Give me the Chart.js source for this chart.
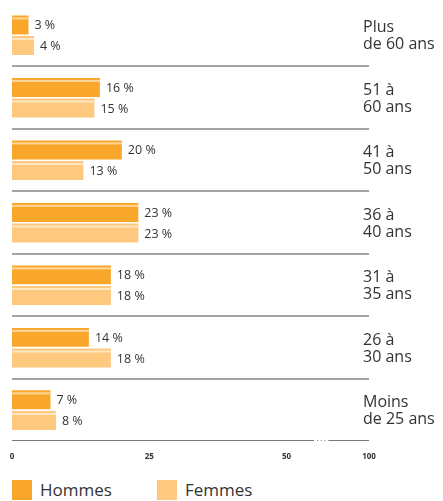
<!DOCTYPE html>
<html>
<head>
<meta charset="utf-8">
<script src="https://cdn.jsdelivr.net/npm/chart.js@4"></script>
<style>
  html, body { margin: 0; padding: 0; background: #fff; overflow: hidden; }
  #wrap { position: relative; width: 443px; height: 501px; overflow: hidden; }
  #ageChart { position: absolute; left: 0; top: 0; }
  #legend { position: absolute; left: 0; top: 480px; font-family: "Open Sans", sans-serif; font-size: 17px; color: #333; }
  .item { position: absolute; top: 0; white-space: nowrap; }
  .box { position: absolute; left: 0; top: 0; width: 20px; height: 20px; }
  .txt { position: absolute; left: 28px; top: -2px; line-height: 24px; }
</style>
</head>
<body>
<div id="wrap">
  <canvas id="ageChart" width="443" height="476"></canvas>
  <div id="legend"></div>
</div>
<script>
/* Répartition par âge — Hommes / Femmes */

const categories = [
  ['Plus', 'de 60 ans'],
  ['51 à', '60 ans'],
  ['41 à', '50 ans'],
  ['36 à', '40 ans'],
  ['31 à', '35 ans'],
  ['26 à', '30 ans'],
  ['Moins', 'de 25 ans'],
];
const hommes = [3, 16, 20, 23, 18, 14, 7];
const femmes = [4, 15, 13, 23, 18, 18, 8];

const seriesNames = ['Hommes', 'Femmes'];
const xTickValues = [0, 25, 50, 65];
const xTickLabels = ['0', '25', '50', '100'];
const axisBreak = [55, 57.6];   // the ". . ." gap in the axis

const COLORS = ['#F9A72A', '#FEC97F'];
const STRIPES = ['rgba(255,226,180,0.8)', 'rgba(255,236,205,0.85)'];
const TEXT = '#333333';

// thin light stripe near the top of each bar + value label
const barDecor = {
  id: 'barDecor',
  afterDatasetsDraw(chart) {
    const c = chart.ctx;
    c.save();
    chart.data.datasets.forEach((ds, di) => {
      const meta = chart.getDatasetMeta(di);
      meta.data.forEach((bar, i) => {
        const top = bar.y - bar.height / 2;
        const left = bar.base;
        c.fillStyle = STRIPES[di];
        c.fillRect(left, top + 2, bar.x - left, 2);
        c.fillStyle = TEXT;
        c.font = '12.5px "Open Sans", sans-serif';
        c.textAlign = 'left';
        c.textBaseline = 'middle';
        c.fillText(ds.data[i] + ' %', bar.x + 6, bar.y + 1);
      });
    });
    c.restore();
  }
};

// separators between groups, broken bottom axis, group labels on the right
const frame = {
  id: 'frame',
  beforeDatasetsDraw(chart) {
    const c = chart.ctx;
    const area = chart.chartArea;
    const y = chart.scales.y;
    const x = chart.scales.x;
    c.save();
    c.strokeStyle = '#a3a3a3';
    c.lineWidth = 2;
    for (let i = 1; i < categories.length; i++) {
      const py = Math.round((y.getPixelForValue(i - 1) + y.getPixelForValue(i)) / 2);
      c.beginPath();
      c.moveTo(area.left, py);
      c.lineTo(area.right, py);
      c.stroke();
    }
    // bottom axis with break
    const by = Math.round(area.bottom) - 0.5;
    const b0 = x.getPixelForValue(axisBreak[0]);
    const b1 = x.getPixelForValue(axisBreak[1]);
    c.strokeStyle = '#7a7a7a';
    c.lineWidth = 1;
    c.beginPath();
    c.moveTo(area.left, by); c.lineTo(b0, by);
    c.moveTo(b1, by); c.lineTo(area.right, by);
    c.stroke();
    c.fillStyle = '#7a7a7a';
    for (let k = 1; k <= 3; k++) {
      c.fillRect(b0 + (b1 - b0) * k / 4 - 0.5, by - 0.5, 1, 1);
    }
    c.restore();
  },
  afterDraw(chart) {
    const c = chart.ctx;
    const area = chart.chartArea;
    const y = chart.scales.y;
    c.save();
    c.fillStyle = TEXT;
    c.font = '16px "Open Sans", sans-serif';
    c.textAlign = 'left';
    c.textBaseline = 'alphabetic';
    categories.forEach((lines, i) => {
      const cy = y.getPixelForValue(i);
      c.fillText(lines[0], area.right - 6, cy - 3);
      c.fillText(lines[1], area.right - 6, cy + 14);
    });
    c.restore();
  }
};

const chart = new Chart(document.getElementById('ageChart'), {
  type: 'bar',
  data: {
    labels: categories,
    datasets: [
      { label: seriesNames[0], data: hommes, backgroundColor: COLORS[0] },
      { label: seriesNames[1], data: femmes, backgroundColor: COLORS[1] },
    ]
  },
  options: {
    indexAxis: 'y',
    responsive: false,
    animation: false,
    barPercentage: 0.92,
    categoryPercentage: 0.66,
    layout: { padding: { top: 4, left: 12, right: 74, bottom: 11 } },
    plugins: {
      legend: { display: false },
      tooltip: { enabled: false }
    },
    scales: {
      x: {
        type: 'linear',
        min: 0,
        max: 65,
        grid: { display: false },
        border: { display: false },
        afterBuildTicks: s => { s.ticks = xTickValues.map(v => ({ value: v })); },
        ticks: {
          autoSkip: false,
          maxRotation: 0,
          padding: 3,
          color: TEXT,
          font: { family: '"Open Sans", sans-serif', size: 8, weight: 'bold' },
          callback: (v, i) => xTickLabels[i]
        }
      },
      y: {
        display: false
      }
    }
  },
  plugins: [barDecor, frame]
});

// legend below the chart
const legendEl = document.getElementById('legend');
const legendX = [12, 157];
seriesNames.forEach((name, i) => {
  const it = document.createElement('div');
  it.className = 'item';
  it.style.left = legendX[i] + 'px';
  it.innerHTML = `<div class="box" style="background:${COLORS[i]}"></div><div class="txt">${name}</div>`;
  legendEl.appendChild(it);
});
</script>
</body>
</html>
